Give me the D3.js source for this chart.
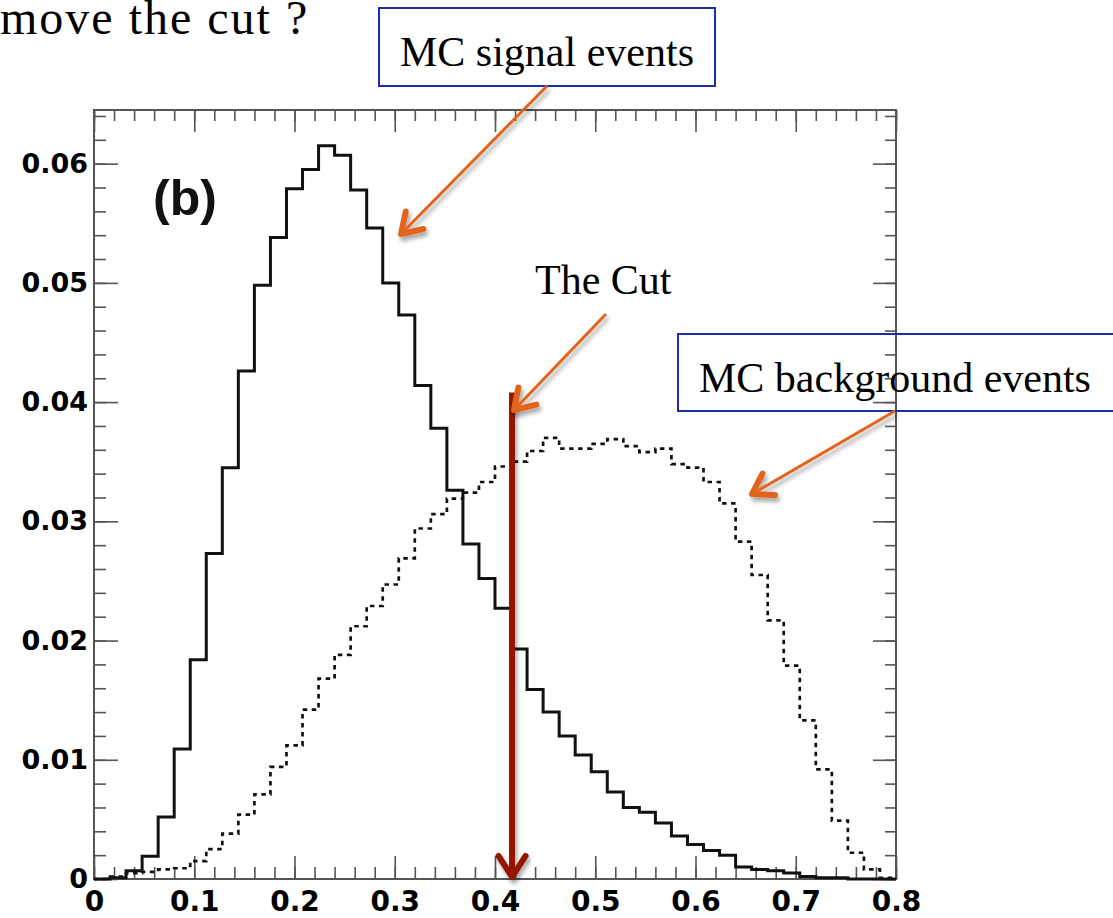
<!DOCTYPE html>
<html>
<head>
<meta charset="utf-8">
<script src="https://cdn.jsdelivr.net/npm/d3@7"></script>
<style>
  body { margin: 0; background: #fff; }
  svg { display: block; }
</style>
</head>
<body>
<svg id="chart" width="1113" height="918"></svg>
<script>
// 50 bins of width 0.016 between 0 and 0.8
const binWidth = 0.016;
const binStarts = d3.range(50).map((i) => i * binWidth);

const signalValues = [
  0, 0.0001, 0.0007, 0.0019, 0.0052, 0.0109, 0.0184, 0.0273, 0.0345, 0.0426,
  0.0498, 0.0538, 0.0579, 0.0595, 0.0615, 0.0607, 0.0578, 0.0546, 0.0500, 0.0473,
  0.0414, 0.0378, 0.0326, 0.0281, 0.0252, 0.0227, 0.0193, 0.0159, 0.0140, 0.0120,
  0.0104, 0.0090, 0.0073, 0.0060, 0.0056, 0.0047, 0.0036, 0.0029, 0.0024, 0.0020,
  0.0010, 0.0008, 0.0007, 0.0005, 0.0002, 0.0001, 0.0001, 0, 0, 0
];

const backgroundValues = [
  0, 0.0002, 0.0005, 0.0006, 0.0008, 0.0009, 0.0015, 0.0025, 0.0038, 0.0054,
  0.0071, 0.0094, 0.0112, 0.0142, 0.0168, 0.0188, 0.0212, 0.0229, 0.0247, 0.0269,
  0.0294, 0.0306, 0.0319, 0.0324, 0.0333, 0.0346, 0.0350, 0.0359, 0.0370, 0.0361,
  0.0361, 0.0365, 0.0369, 0.0363, 0.0358, 0.0361, 0.0348, 0.0345, 0.0333, 0.0315,
  0.0283, 0.0255, 0.0217, 0.0179, 0.0133, 0.0092, 0.0049, 0.0022, 0.0008, 0.0001
];

const xTickValues = [0, 0.1, 0.2, 0.3, 0.4, 0.5, 0.6, 0.7, 0.8];
const xTickLabels = ["0", "0.1", "0.2", "0.3", "0.4", "0.5", "0.6", "0.7", "0.8"];
const yTickValues = [0, 0.01, 0.02, 0.03, 0.04, 0.05, 0.06];
const yTickLabels = ["0", "0.01", "0.02", "0.03", "0.04", "0.05", "0.06"];

const cutValue = 0.417;
const cutTop = 0.0408;

const svg = d3.select("#chart");
const frame = { left: 94, right: 896, top: 110, bottom: 879 };

const x = d3.scaleLinear().domain([0, 0.8]).range([frame.left, frame.right]);
const y = d3.scaleLinear().domain([0, 0.0645]).range([frame.bottom, frame.top]);

const xMinor = d3.range(41).map((i) => i * 0.02);
const yMinor = d3.range(33).map((i) => i * 0.002);

const defs = svg.append("defs");
defs.append("filter")
  .attr("id", "shadow")
  .attr("x", "-20%").attr("y", "-20%")
  .attr("width", "140%").attr("height", "140%")
  .append("feDropShadow")
  .attr("dx", 2).attr("dy", 4)
  .attr("stdDeviation", 2)
  .attr("flood-color", "#000")
  .attr("flood-opacity", 0.35);

// ticks on all four sides, pointing inwards (ROOT style)
function drawTicks(axisFn, scale, values, size, transform) {
  svg.append("g")
    .attr("class", "ticks")
    .attr("transform", transform)
    .call(axisFn(scale).tickValues(values).tickSize(size).tickSizeOuter(0).tickFormat(""))
    .call((g) => g.select(".domain").remove())
    .call((g) => g.selectAll("line").attr("stroke", "#555").attr("stroke-width", 1.6));
}

drawTicks(d3.axisBottom, x, xMinor, -12, `translate(0,${frame.bottom})`);
drawTicks(d3.axisBottom, x, xTickValues, -23, `translate(0,${frame.bottom})`);
drawTicks(d3.axisTop, x, xMinor, -11, `translate(0,${frame.top})`);
drawTicks(d3.axisTop, x, xTickValues, -22, `translate(0,${frame.top})`);
drawTicks(d3.axisLeft, y, yMinor, -12, `translate(${frame.left},0)`);
drawTicks(d3.axisLeft, y, yTickValues, -24, `translate(${frame.left},0)`);
drawTicks(d3.axisRight, y, yMinor, -11, `translate(${frame.right},0)`);
drawTicks(d3.axisRight, y, yTickValues, -23, `translate(${frame.right},0)`);

svg.append("rect")
  .attr("x", frame.left)
  .attr("y", frame.top)
  .attr("width", frame.right - frame.left)
  .attr("height", frame.bottom - frame.top)
  .attr("fill", "none")
  .attr("stroke", "#555")
  .attr("stroke-width", 2);

// tick labels
const labelFont = "'DejaVu Sans', sans-serif";

svg.append("g")
  .attr("transform", `translate(0,${frame.bottom})`)
  .call(d3.axisBottom(x).tickValues(xTickValues).tickSize(0).tickPadding(12)
    .tickFormat((d, i) => xTickLabels[i]))
  .call((g) => g.select(".domain").remove())
  .selectAll("text")
  .attr("fill", "#000")
  .style("font-family", labelFont)
  .style("font-weight", "bold")
  .style("font-size", "28px");

svg.append("g")
  .attr("transform", `translate(${frame.left},0)`)
  .call(d3.axisLeft(y).tickValues(yTickValues).tickSize(0).tickPadding(6)
    .tickFormat((d, i) => yTickLabels[i]))
  .call((g) => g.select(".domain").remove())
  .selectAll("text")
  .attr("fill", "#000")
  .style("font-family", labelFont)
  .style("font-weight", "bold")
  .style("font-size", "27px");

// histograms as step outlines
function histogramPoints(values) {
  const points = [[0, 0]];
  values.forEach((v, i) => points.push([binStarts[i], v]));
  points.push([binStarts[values.length - 1] + binWidth, values[values.length - 1]]);
  points.push([binStarts[values.length - 1] + binWidth, 0]);
  return points;
}

const stepLine = d3.line()
  .x((d) => x(d[0]))
  .y((d) => y(d[1]))
  .curve(d3.curveStepAfter);

svg.append("path")
  .datum(histogramPoints(backgroundValues))
  .attr("d", stepLine)
  .attr("fill", "none")
  .attr("stroke", "#111")
  .attr("stroke-width", 2.7)
  .attr("stroke-dasharray", "4.5,4.5");

svg.append("path")
  .datum(histogramPoints(signalValues))
  .attr("d", stepLine)
  .attr("fill", "none")
  .attr("stroke", "#111")
  .attr("stroke-width", 3)
  .attr("stroke-linejoin", "miter");

svg.append("text")
  .attr("x", 153)
  .attr("y", 215)
  .attr("fill", "#111")
  .style("font-family", "'Liberation Sans', Arial, sans-serif")
  .style("font-weight", "bold")
  .style("font-size", "50px")
  .text("(b)");

// arrow helper: shaft plus an open chevron at the tip
function arrowHeadPath(from, tip, len, angle) {
  const dx = from[0] - tip[0];
  const dy = from[1] - tip[1];
  const l = Math.hypot(dx, dy);
  const ux = dx / l;
  const uy = dy / l;
  const arm = (a) => [
    tip[0] + len * (ux * Math.cos(a) - uy * Math.sin(a)),
    tip[1] + len * (ux * Math.sin(a) + uy * Math.cos(a))
  ];
  const a1 = arm(angle);
  const a2 = arm(-angle);
  return `M${a1[0]},${a1[1]}L${tip[0]},${tip[1]}L${a2[0]},${a2[1]}`;
}

function drawArrow(from, tip, color, width, headWidth, headLen) {
  const g = svg.append("g").attr("filter", "url(#shadow)");
  g.append("line")
    .attr("x1", from[0]).attr("y1", from[1])
    .attr("x2", tip[0]).attr("y2", tip[1])
    .attr("stroke", color)
    .attr("stroke-width", width);
  g.append("path")
    .attr("d", arrowHeadPath(from, tip, headLen, Math.PI / 5.5))
    .attr("fill", "none")
    .attr("stroke", color)
    .attr("stroke-width", headWidth)
    .attr("stroke-linecap", "round")
    .attr("stroke-linejoin", "round");
}

// the cut
drawArrow([x(cutValue), y(cutTop)], [x(cutValue), y(0) - 2], "#931806", 6, 6, 25);

// annotations
const orange = "#e2641f";
const serif = "'Liberation Serif', 'Times New Roman', serif";

svg.append("text")
  .attr("x", 0)
  .attr("y", 34)
  .attr("fill", "#000")
  .style("font-family", serif)
  .style("font-size", "48px")
  .style("letter-spacing", "2px")
  .text("move the cut ?");

svg.append("rect")
  .attr("x", 379).attr("y", 8)
  .attr("width", 336).attr("height", 78)
  .attr("fill", "none")
  .attr("stroke", "#1c2fa6")
  .attr("stroke-width", 2);

svg.append("text")
  .attr("x", 400).attr("y", 66)
  .attr("fill", "#000")
  .style("font-family", serif)
  .style("font-size", "42px")
  .text("MC signal events");

svg.append("text")
  .attr("x", 535).attr("y", 294)
  .attr("fill", "#000")
  .style("font-family", serif)
  .style("font-size", "42px")
  .text("The Cut");

svg.append("rect")
  .attr("x", 678).attr("y", 334)
  .attr("width", 460).attr("height", 77)
  .attr("fill", "none")
  .attr("stroke", "#1c2fa6")
  .attr("stroke-width", 2);

svg.append("text")
  .attr("x", 699).attr("y", 392)
  .attr("fill", "#000")
  .style("font-family", serif)
  .style("font-size", "42px")
  .text("MC background events");

drawArrow([547, 86], [401, 234], orange, 3, 6, 23);
drawArrow([606, 314], [514, 410], orange, 3, 6, 23);
drawArrow([895, 411], [752, 494], orange, 3, 6, 23);
</script>
</body>
</html>
